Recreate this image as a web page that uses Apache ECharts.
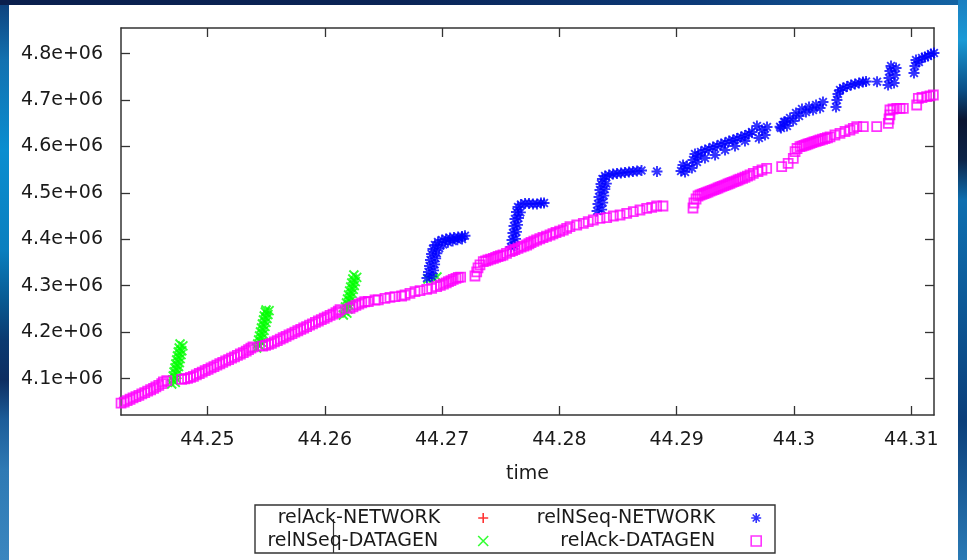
<!DOCTYPE html>
<html>
<head>
<meta charset="utf-8">
<script src="https://cdn.jsdelivr.net/npm/echarts@6/dist/echarts.min.js"></script>
<style>
  html, body { margin: 0; padding: 0; }
  body { width: 967px; height: 560px; position: relative; overflow: hidden; background: #0b2a5a; }
  #frameLeft { position: absolute; left: 0; top: 0; width: 9px; height: 560px;
    background: linear-gradient(to bottom, #0d3f7a 0px, #1371b0 60px, #0a8ed0 150px, #0a7fbf 250px, #085a92 300px, #0b3a70 340px, #0d2e62 380px, #1d5d99 420px, #2f7ab4 470px, #3a86bf 560px); }
  #frameTop { position: absolute; left: 0; top: 0; width: 967px; height: 5px;
    background: linear-gradient(to right, #0a1f4d 0px, #0a2456 400px, #0c3a78 700px, #1465a5 967px); }
  #frameRight { position: absolute; left: 958px; top: 0; width: 9px; height: 560px;
    background: linear-gradient(to bottom, #1b7fc0 0px, #1a9ad6 40px, #0b4f86 90px, #0a1530 120px, #0c2448 160px, #0e6fb0 200px, #0d5a98 300px, #0b3f7a 420px, #2a7ab5 560px); }
  #paper { position: absolute; left: 9px; top: 5px; width: 949px; height: 555px; background: #ffffff; }
  #chart { position: absolute; left: 0; top: 0; width: 967px; height: 560px; }
</style>
</head>
<body>
<div id="frameLeft"></div>
<div id="frameTop"></div>
<div id="frameRight"></div>
<div id="paper"></div>
<div id="chart"></div>
<script>
// Axis ranges and ticks
const timeRange = [44.242626, 44.311935];
const seqRange = [4021600, 4855100];
const timeTicks = [44.25, 44.26, 44.27, 44.28, 44.29, 44.30, 44.31];
const seqTicks = [4100000, 4200000, 4300000, 4400000, 4500000, 4600000, 4700000, 4800000];

// Series names in key order
const seriesNames = ['relAck-NETWORK', 'relNSeq-NETWORK', 'relNSeq-DATAGEN', 'relAck-DATAGEN'];

// relAck-NETWORK: no samples in this time window
const relAckNetwork = [];

// relNSeq-DATAGEN: [time, sequence]
const relNSeqDatagen = [
  [44.24695, 4088300], [44.24702, 4096900], [44.24708, 4105600], [44.24715, 4114200], [44.24723, 4122800],
  [44.24730, 4131400], [44.24737, 4140000], [44.24744, 4148600], [44.24751, 4157300], [44.24759, 4165900],
  [44.24766, 4174500],
  [44.24725, 4092000], [44.24732, 4100500], [44.24739, 4109000], [44.24746, 4117500], [44.24753, 4126000],
  [44.24760, 4134500], [44.24767, 4143000], [44.24774, 4151500], [44.24781, 4160000], [44.24790, 4170500],
  [44.25419, 4165900], [44.25428, 4174500], [44.25436, 4183100], [44.25444, 4191700], [44.25452, 4200300],
  [44.25460, 4208900], [44.25468, 4217600], [44.25477, 4226200], [44.25484, 4234800], [44.25493, 4243400],
  [44.25499, 4247700],
  [44.25449, 4170000], [44.25458, 4178500], [44.25466, 4187000], [44.25474, 4195500], [44.25482, 4204000],
  [44.25490, 4212500], [44.25498, 4221000], [44.25507, 4229500], [44.25515, 4238000], [44.25525, 4246500],
  [44.26158, 4237000], [44.26167, 4245600], [44.26176, 4254200], [44.26185, 4262800], [44.26194, 4271400],
  [44.26203, 4280000], [44.26212, 4288700], [44.26221, 4297300], [44.26230, 4305900], [44.26239, 4314500],
  [44.26248, 4323100],
  [44.26188, 4241000], [44.26197, 4249500], [44.26206, 4258000], [44.26215, 4266500], [44.26224, 4275000],
  [44.26233, 4283500], [44.26242, 4292000], [44.26251, 4300500], [44.26260, 4309000], [44.26272, 4318000],
  [44.26880, 4314500], [44.26923, 4316700], [44.26956, 4318800]
];

// relNSeq-NETWORK: [time, sequence]
const relNSeqNetwork = [
  [44.26871, 4316700], [44.26884, 4329600], [44.26893, 4342500], [44.26901, 4355400], [44.26910, 4368300],
  [44.26922, 4379100], [44.26939, 4387700], [44.26965, 4394200], [44.26999, 4398500], [44.27033, 4400700],
  [44.27067, 4402800], [44.27101, 4403900], [44.27136, 4405000], [44.27170, 4406100], [44.27195, 4407800],
  [44.26914, 4320000], [44.26927, 4333000], [44.26936, 4346000], [44.26945, 4359000], [44.26955, 4370000],
  [44.26975, 4381000], [44.27010, 4389000], [44.27050, 4393500], [44.27090, 4396500], [44.27130, 4399000],
  [44.27170, 4400500],
  [44.27587, 4383400], [44.27596, 4398500], [44.27604, 4413600], [44.27613, 4428700], [44.27621, 4443700],
  [44.27634, 4458800], [44.27647, 4469600], [44.27672, 4475000], [44.27707, 4477100], [44.27741, 4477100],
  [44.27775, 4476000], [44.27809, 4476000], [44.27843, 4478200], [44.27869, 4478200],
  [44.27617, 4386000], [44.27626, 4401000], [44.27634, 4416000], [44.27643, 4431000], [44.27651, 4446000],
  [44.27667, 4458000],
  [44.28321, 4461000], [44.28329, 4476000], [44.28338, 4491100], [44.28346, 4506200], [44.28355, 4519100],
  [44.28367, 4529900], [44.28389, 4536400], [44.28423, 4538500], [44.28457, 4540700], [44.28491, 4541700],
  [44.28525, 4542800], [44.28559, 4543900], [44.28593, 4545000], [44.28627, 4546000], [44.28662, 4547100],
  [44.28700, 4548200],
  [44.28360, 4464000], [44.28369, 4479000], [44.28378, 4494000], [44.28387, 4508000], [44.28400, 4520000],
  [44.28832, 4546000],
  [44.29037, 4547100], [44.29054, 4560000], [44.29071, 4545000], [44.29088, 4557800],
  [44.29130, 4553600], [44.29139, 4570800], [44.29156, 4583700], [44.29182, 4579400], [44.29207, 4588100],
  [44.29241, 4592400], [44.29275, 4594500], [44.29309, 4598800], [44.29344, 4601000], [44.29378, 4605300],
  [44.29412, 4607400], [44.29446, 4611700], [44.29480, 4613900], [44.29514, 4617100], [44.29548, 4620400],
  [44.29582, 4623600], [44.29616, 4626800], [44.29642, 4631100], [44.29684, 4644000], [44.29701, 4618200],
  [44.29727, 4635400], [44.29753, 4624700], [44.29770, 4641900], [44.29881, 4642500], [44.29923, 4653300],
  [44.29173, 4566500], [44.29241, 4575100], [44.29327, 4581600], [44.29412, 4592400], [44.29497, 4601000],
  [44.29582, 4611700],
  [44.29889, 4639700], [44.29915, 4652700], [44.29940, 4644000], [44.29966, 4661300], [44.29992, 4654800],
  [44.30017, 4672100], [44.30043, 4665600], [44.30068, 4680700], [44.30102, 4674200], [44.30128, 4685000],
  [44.30162, 4678500], [44.30188, 4689300], [44.30222, 4682800], [44.30247, 4695800],
  [44.30358, 4685000], [44.30366, 4700100], [44.30375, 4713100], [44.30392, 4721700], [44.30418, 4726000],
  [44.30452, 4729100], [44.30486, 4732400], [44.30520, 4734500], [44.30554, 4736700], [44.30588, 4738800],
  [44.30614, 4739900], [44.30708, 4739500],
  [44.30802, 4732400], [44.30810, 4747400], [44.30818, 4762500], [44.30827, 4773300], [44.30853, 4736700],
  [44.30861, 4753900], [44.30870, 4769000],
  [44.31023, 4758200], [44.31031, 4773300], [44.31040, 4786200], [44.31065, 4781900], [44.31091, 4790500],
  [44.31116, 4792700], [44.31142, 4794800], [44.31168, 4799100], [44.31193, 4801300]
];

// relAck-DATAGEN: [time, sequence]
const relAckDatagen = [
  [44.24263, 4047000], [44.24290, 4049500], [44.24315, 4052500], [44.24340, 4055500], [44.24365, 4058500],
  [44.24390, 4061000], [44.24415, 4064000], [44.24440, 4067000], [44.24465, 4070000], [44.24490, 4073000],
  [44.24515, 4076000], [44.24540, 4079000], [44.24560, 4082000], [44.24585, 4085500], [44.24610, 4089000],
  [44.24624, 4093000], [44.24653, 4095500],
  [44.24780, 4098500], [44.24805, 4099500], [44.24830, 4100500], [44.24855, 4102500], [44.24880, 4105000],
  [44.24905, 4108000], [44.24930, 4111000], [44.24955, 4114000], [44.24980, 4117000], [44.25005, 4120000],
  [44.25030, 4123000], [44.25055, 4126000], [44.25080, 4129000], [44.25105, 4132000], [44.25130, 4135000],
  [44.25155, 4138000], [44.25180, 4141000], [44.25205, 4144000], [44.25230, 4147000], [44.25255, 4150000],
  [44.25280, 4153000], [44.25305, 4156000], [44.25330, 4159000], [44.25350, 4162500], [44.25370, 4165500],
  [44.25388, 4168500],
  [44.25470, 4170000], [44.25495, 4171500], [44.25520, 4173500], [44.25545, 4176000], [44.25570, 4179000],
  [44.25595, 4182000], [44.25620, 4185000], [44.25645, 4188000], [44.25670, 4191000], [44.25695, 4194000],
  [44.25720, 4197000], [44.25745, 4200000], [44.25770, 4203000], [44.25795, 4206000], [44.25820, 4209000],
  [44.25845, 4212000], [44.25870, 4215000], [44.25895, 4218000], [44.25920, 4221000], [44.25945, 4224000],
  [44.25970, 4227000], [44.25995, 4230000], [44.26020, 4233000], [44.26045, 4236000], [44.26070, 4239000],
  [44.26095, 4242000], [44.26115, 4245000], [44.26130, 4248500],
  [44.26215, 4251500], [44.26240, 4254500], [44.26265, 4257500], [44.26290, 4260500], [44.26315, 4263000],
  [44.26340, 4265500], [44.26371, 4266000], [44.26428, 4269300], [44.26456, 4269500], [44.26513, 4272900],
  [44.26556, 4275100], [44.26598, 4276400], [44.26655, 4277900], [44.26684, 4280000], [44.26726, 4283700],
  [44.26769, 4287200], [44.26812, 4289300], [44.26869, 4292300], [44.26911, 4294500], [44.26954, 4297900],
  [44.26985, 4301000], [44.27011, 4303700], [44.27035, 4306000], [44.27054, 4308700], [44.27075, 4311000],
  [44.27095, 4313800], [44.27118, 4316000], [44.27138, 4318200], [44.27158, 4318500],
  [44.27280, 4321000], [44.27295, 4329800], [44.27306, 4338300], [44.27323, 4344800], [44.27351, 4351800],
  [44.27371, 4353600], [44.27391, 4355400], [44.27414, 4357200], [44.27437, 4359100], [44.27457, 4361000],
  [44.27477, 4363000], [44.27498, 4364600], [44.27519, 4366200], [44.27549, 4369800], [44.27579, 4373300],
  [44.27600, 4375600], [44.27621, 4378000], [44.27647, 4380700], [44.27673, 4383400], [44.27697, 4385500],
  [44.27721, 4387700], [44.27740, 4390400], [44.27758, 4393100], [44.27782, 4395800], [44.27806, 4398500],
  [44.27833, 4401200], [44.27860, 4403900], [44.27890, 4406600], [44.27920, 4409300], [44.27945, 4412000],
  [44.27971, 4414700], [44.28002, 4417300], [44.28033, 4420000], [44.28062, 4423500], [44.28090, 4427100],
  [44.28148, 4430800], [44.28204, 4434500], [44.28246, 4437900], [44.28289, 4441600], [44.28346, 4445200],
  [44.28403, 4446500], [44.28460, 4450200], [44.28517, 4452300], [44.28574, 4456000], [44.28630, 4459500],
  [44.28687, 4463100], [44.28744, 4466800], [44.28787, 4468900], [44.28829, 4471700], [44.28883, 4471700],
  [44.29139, 4467400], [44.29147, 4478200], [44.29165, 4486800], [44.29182, 4493300], [44.29199, 4495400],
  [44.29216, 4497000], [44.29233, 4498700], [44.29250, 4500300], [44.29267, 4501900], [44.29284, 4503800],
  [44.29301, 4505600], [44.29318, 4507200], [44.29335, 4508800], [44.29352, 4510500], [44.29369, 4512200],
  [44.29386, 4514000], [44.29403, 4515700], [44.29420, 4517400], [44.29437, 4519100], [44.29454, 4520700],
  [44.29471, 4522400], [44.29488, 4524200], [44.29506, 4526000], [44.29523, 4527700], [44.29540, 4529500],
  [44.29561, 4531500], [44.29582, 4533600], [44.29603, 4536000], [44.29625, 4538500], [44.29653, 4542200],
  [44.29693, 4546000], [44.29727, 4549300], [44.29767, 4552900],
  [44.29895, 4556400], [44.29950, 4563700], [44.29994, 4574500], [44.30009, 4588700], [44.30026, 4595600],
  [44.30051, 4599500], [44.30068, 4600800], [44.30085, 4602100], [44.30102, 4603700], [44.30119, 4605300],
  [44.30136, 4606800], [44.30153, 4608300], [44.30170, 4609700], [44.30188, 4611100], [44.30205, 4612500],
  [44.30222, 4613900], [44.30243, 4615500], [44.30264, 4617100], [44.30285, 4618700], [44.30307, 4620400],
  [44.30349, 4624700], [44.30392, 4628300], [44.30435, 4632200], [44.30477, 4635400], [44.30506, 4639000],
  [44.30535, 4642500], [44.30591, 4642500],
  [44.30705, 4642500],
  [44.30804, 4649900], [44.30810, 4659100], [44.30818, 4668000], [44.30818, 4678500], [44.30844, 4680700],
  [44.30876, 4682200], [44.30904, 4682200], [44.30932, 4682200],
  [44.31046, 4689300], [44.31060, 4703700], [44.31091, 4705400], [44.31131, 4707200], [44.31159, 4708700],
  [44.31188, 4710800]
];

// Point glyphs
const plusPath = 'path://M5,0L5,10M0,5L10,5';
const crossPath = 'path://M0,0L10,10M10,0L0,10';
const starPath = 'path://M5,0L5,10M0,5L10,5M1.5,1.5L8.5,8.5M8.5,1.5L1.5,8.5';

const FONT = 'DejaVu Sans';
const INK = '#1a1a1a';
const FRAME = '#333333';
const RED = '#ff0000', BLUE = '#0000ff', GREEN = '#00ff00', MAGENTA = '#ff00ff';

const chart = echarts.init(document.getElementById('chart'), null, { renderer: 'canvas' });

function strokeStyle(color, w) {
  return { color: 'transparent', borderColor: color, borderWidth: w };
}

const legendBase = {
  orient: 'horizontal',
  align: 'right',
  padding: 0,
  itemWidth: 10,
  itemHeight: 10,
  selectedMode: false,
  textStyle: { fontFamily: FONT, fontSize: 19, color: INK, lineHeight: 22 }
};
function legendFor(name, right, top, color, icon, gapPad) {
  return Object.assign({}, legendBase, {
    data: [{ name: name, icon: icon }],
    right: right,
    top: top,
    itemStyle: strokeStyle(color, 1.6),
    textStyle: Object.assign({}, legendBase.textStyle, { padding: [0, gapPad, 0, 0] })
  });
}

const tickStyle = { show: true, inside: true, length: 9, lineStyle: { color: FRAME, width: 1.3 } };
const lineStyle = { show: true, onZero: false, lineStyle: { color: FRAME, width: 1.5 } };

const option = {
  animation: false,
  backgroundColor: 'transparent',
  grid: { left: 121, right: 33, top: 28, bottom: 145, containLabel: false, outerBoundsMode: 'none' },
  xAxis: [
    {
      type: 'value', position: 'bottom', min: timeRange[0], max: timeRange[1],
      axisLine: lineStyle,
      axisTick: Object.assign({ customValues: timeTicks }, tickStyle),
      axisLabel: {
        customValues: timeTicks, margin: 16, fontFamily: FONT, fontSize: 19, color: INK,
        formatter: v => String(+v.toFixed(2))
      },
      splitLine: { show: false },
      name: 'time', nameLocation: 'middle', nameGap: 50,
      nameTextStyle: { fontFamily: FONT, fontSize: 19, color: INK }
    },
    {
      type: 'value', position: 'top', min: timeRange[0], max: timeRange[1],
      axisLine: lineStyle,
      axisTick: Object.assign({ customValues: timeTicks }, tickStyle),
      axisLabel: { show: false },
      splitLine: { show: false }
    }
  ],
  yAxis: [
    {
      type: 'value', position: 'left', min: seqRange[0], max: seqRange[1],
      axisLine: lineStyle,
      axisTick: Object.assign({ customValues: seqTicks }, tickStyle),
      axisLabel: {
        customValues: seqTicks, margin: 18, fontFamily: FONT, fontSize: 19, color: INK,
        formatter: v => (v / 1e6).toFixed(1) + 'e+06'
      },
      splitLine: { show: false }
    },
    {
      type: 'value', position: 'right', min: seqRange[0], max: seqRange[1],
      axisLine: lineStyle,
      axisTick: Object.assign({ customValues: seqTicks }, tickStyle),
      axisLabel: { show: false },
      splitLine: { show: false }
    }
  ],
  legend: [
    legendFor(seriesNames[0], 478, 507, RED, plusPath, 33),
    legendFor(seriesNames[1], 205, 507, BLUE, starPath, 31),
    legendFor(seriesNames[2], 478, 530, GREEN, crossPath, 35),
    legendFor(seriesNames[3], 205, 530, MAGENTA, 'rect', 31)
  ],
  graphic: [
    { type: 'rect', shape: { x: 255, y: 505, width: 520, height: 48 },
      style: { fill: 'none', stroke: FRAME, lineWidth: 1.4 }, silent: true },
    { type: 'line', shape: { x1: 333.5, y1: 519, x2: 333.5, y2: 553 },
      style: { stroke: FRAME, lineWidth: 1.2 }, silent: true }
  ],
  series: [
    { name: seriesNames[0], type: 'scatter', data: relAckNetwork,
      symbol: plusPath, symbolSize: 10, itemStyle: strokeStyle(RED, 1.8) },
    { name: seriesNames[2], type: 'scatter', data: relNSeqDatagen,
      symbol: crossPath, symbolSize: 9, itemStyle: strokeStyle(GREEN, 1.9) },
    { name: seriesNames[1], type: 'scatter', data: relNSeqNetwork,
      symbol: starPath, symbolSize: 11, itemStyle: strokeStyle(BLUE, 1.9) },
    { name: seriesNames[3], type: 'scatter', data: relAckDatagen,
      symbol: 'rect', symbolSize: 9, itemStyle: strokeStyle(MAGENTA, 1.8) }
  ]
};

chart.setOption(option);
</script>
</body>
</html>
